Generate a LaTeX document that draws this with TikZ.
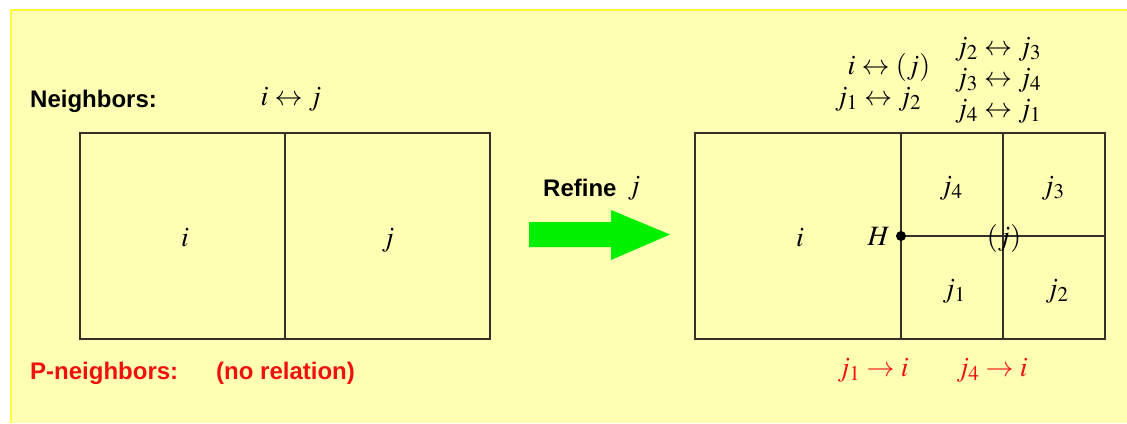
\documentclass[tikz,border=0pt]{standalone}
\usepackage{mathptmx}
\usepackage{fontspec}
\setsansfont{Liberation Sans}
\setmainfont{Liberation Serif}
\DeclareMathSizes{28}{28}{21}{16}
\definecolor{bgyellow}{HTML}{FFFFB4}
\definecolor{edgeyellow}{HTML}{FFFF3C}
\definecolor{arrowgreen}{HTML}{00F000}
\definecolor{lblred}{HTML}{F01010}
\tikzset{
  lbl/.style={font=\sffamily\bfseries\fontsize{24}{28}\selectfont, anchor=base west, inner sep=0pt},
  mth/.style={font=\fontsize{28}{32}\selectfont, anchor=base, inner sep=0pt},
  cellline/.style={draw=black!85!olive, line width=1.3pt},
  redtext/.style={text=lblred}
}
\begin{document}
\begin{tikzpicture}[x=1pt,y=-1pt]
\useasboundingbox (0,0) rectangle (1127,423);
% background
\fill[bgyellow] (11,10) rectangle (1127,423);
\draw[edgeyellow, line width=2pt] (11,423) -- (11,10) -- (1127,10);

% ---------- left panel ----------
\node[lbl] (nb) at (30,107) {Neighbors:};
\node[mth] (nbrel) at (291,105) {$i\leftrightarrow j$};
\draw[cellline] (80,133) rectangle (490,339);
\draw[cellline] (285,133) -- (285,339);
\node[mth] (li) at (185,246) {$i$};
\node[mth] (lj) at (388,246) {$j$};
\node[lbl, redtext] (pn) at (30,379) {P-neighbors:};
\node[lbl, redtext] (norel) at (216,379) {(no relation)};

% ---------- arrow ----------
\node[lbl] (refine) at (543,196) {Refine};
\node[mth] (refj) at (634,194) {$j$};
\fill[arrowgreen] (529,222) -- (611,222) -- (611,210) -- (670,234.5) -- (611,260) -- (611,247) -- (529,247) -- cycle;

% ---------- right panel ----------
\draw[cellline] (695,133) rectangle (1105,339);
\draw[cellline] (901,133) -- (901,339);
\draw[cellline] (1003,133) -- (1003,339);
\coordinate (H) at (901,236);
\coordinate (E) at (1105,236);
\draw[cellline] (H) -- (E);
\fill[black] (H) circle (5);
\node[mth, anchor=base east] (Hl) at (890,245) {$H$};
\node[mth] (ri) at (800,246) {$i$};
\node[mth] (pj) at (1004,245) {$(j)$};
\node[mth] (j4) at (951,194) {$j_4$};
\node[mth] (j3) at (1053,194) {$j_3$};
\node[mth] (j1) at (954,297) {$j_1$};
\node[mth] (j2) at (1057,297) {$j_2$};

\node[mth] (r1) at (889,74) {$i\leftrightarrow (j)$};
\node[mth] (r2) at (878,105) {$j_1\leftrightarrow j_2$};
\node[mth] (r3) at (998,55) {$j_2\leftrightarrow j_3$};
\node[mth] (r4) at (998,86) {$j_3\leftrightarrow j_4$};
\node[mth] (r5) at (998,117) {$j_4\leftrightarrow j_1$};

\node[mth, redtext] (p1) at (873,376) {$j_1\rightarrow i$};
\node[mth, redtext] (p2) at (992,376) {$j_4\rightarrow i$};
\end{tikzpicture}
\end{document}
